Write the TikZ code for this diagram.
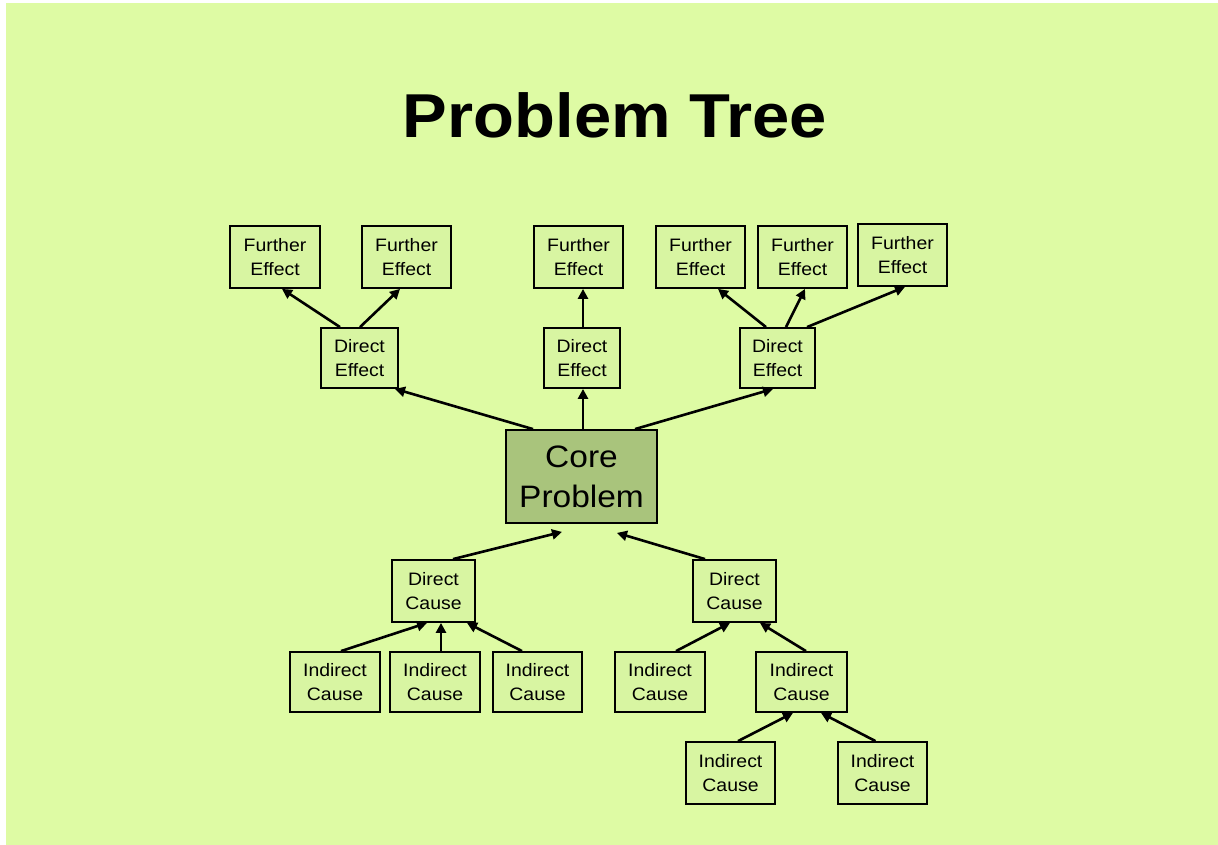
\documentclass[tikz,border=0pt]{standalone}
\usepackage{fontspec}
\setmainfont{Liberation Sans}[FakeStretch=1.08]
\usetikzlibrary{arrows.meta}
\definecolor{bg}{HTML}{DEFBA4}
\definecolor{boxfill}{HTML}{D8F5A2}
\definecolor{corefill}{HTML}{A9C47C}
\tikzset{
  box/.style={draw=black, line width=1.8pt, fill=boxfill, inner sep=0pt, align=center,
    font=\fontsize{18}{24}\selectfont},
  corebox/.style={box, fill=corefill, font=\fontsize{31}{40}\selectfont},
  arr/.style={line width=2.6pt, -{Triangle[length=10pt,width=10pt]}},
}
\begin{document}
\begin{tikzpicture}[x=1pt,y=-1pt]
\useasboundingbox (0,0) rectangle (1218,845);
\fill[white] (0,0) rectangle (1218,845);
\fill[bg] (6,3) rectangle (1218,845);
\node[anchor=base, font=\fontsize{62}{70}\selectfont\bfseries] (title) at (615,138) {Problem Tree};
% effects
\node[box, minimum width=90pt, minimum height=62pt] (fe1) at (275,257) {Further\\Effect};
\node[box, minimum width=89pt, minimum height=62pt] (fe2) at (406.5,257) {Further\\Effect};
\node[box, minimum width=89pt, minimum height=62pt] (fe3) at (578.5,257) {Further\\Effect};
\node[box, minimum width=89pt, minimum height=62pt] (fe4) at (700.5,257) {Further\\Effect};
\node[box, minimum width=89pt, minimum height=62pt] (fe5) at (802.5,257) {Further\\Effect};
\node[box, minimum width=89pt, minimum height=62pt] (fe6) at (902.5,255) {Further\\Effect};
\node[box, minimum width=77pt, minimum height=60pt] (de1) at (359.5,358) {Direct\\Effect};
\node[box, minimum width=76pt, minimum height=60pt] (de2) at (582,358) {Direct\\Effect};
\node[box, minimum width=75pt, minimum height=60pt] (de3) at (777.5,358) {Direct\\Effect};
% core
\node[corebox, minimum width=151pt, minimum height=93pt] (core) at (581.5,476.5) {Core\\Problem};
% causes
\node[box, minimum width=83pt, minimum height=62pt] (dc1) at (433.5,591) {Direct\\Cause};
\node[box, minimum width=83pt, minimum height=62pt] (dc2) at (734.5,591) {Direct\\Cause};
\node[box, minimum width=90pt, minimum height=60pt] (ic1) at (335,682) {Indirect\\Cause};
\node[box, minimum width=90pt, minimum height=60pt] (ic2) at (435,682) {Indirect\\Cause};
\node[box, minimum width=89pt, minimum height=60pt] (ic3) at (537.5,682) {Indirect\\Cause};
\node[box, minimum width=90pt, minimum height=60pt] (ic4) at (660,682) {Indirect\\Cause};
\node[box, minimum width=91pt, minimum height=60pt] (ic5) at (801.5,682) {Indirect\\Cause};
\node[box, minimum width=89pt, minimum height=62pt] (ic6) at (730.5,773) {Indirect\\Cause};
\node[box, minimum width=89pt, minimum height=62pt] (ic7) at (882.5,773) {Indirect\\Cause};
% arrows: effects
\draw[arr] ([xshift=-19.5pt]de1.north) -- ([xshift=7pt]fe1.south);
\draw[arr] ([xshift=0.5pt]de1.north) -- ([xshift=-6.5pt]fe2.south);
\draw[arr] ([xshift=1pt]de2.north) -- ([xshift=4.5pt]fe3.south);
\draw[arr] ([xshift=-48.5pt]core.north) -- ([xshift=35.5pt]de1.south);
\draw[arr] ([xshift=1.5pt]core.north) -- ([xshift=1pt]de2.south);
\draw[arr] ([xshift=53.5pt]core.north) -- ([xshift=-4.5pt]de3.south);
\draw[arr] ([xshift=-11.5pt]de3.north) -- ([xshift=17.5pt]fe4.south);
\draw[arr] ([xshift=8.5pt]de3.north) -- ([xshift=2.5pt]fe5.south);
\draw[arr] ([xshift=29.5pt]de3.north) -- ([xshift=2.5pt]fe6.south);
% arrows: causes
\draw[arr] ([xshift=19.5pt]dc1.north) -- ([xshift=-19.5pt,yshift=-8pt]core.south);
\draw[arr] ([xshift=-29.5pt]dc2.north) -- ([xshift=35.5pt,yshift=-9pt]core.south);
\draw[arr] ([xshift=6pt]ic1.north) -- ([xshift=-6.5pt]dc1.south);
\draw[arr] ([xshift=6pt]ic2.north) -- ([xshift=7.5pt]dc1.south);
\draw[arr] ([xshift=-15.5pt]ic3.north) -- ([xshift=33.5pt]dc1.south);
\draw[arr] ([xshift=16pt]ic4.north) -- ([xshift=-4.5pt]dc2.south);
\draw[arr] ([xshift=4.5pt]ic5.north) -- ([xshift=25.5pt]dc2.south);
\draw[arr] ([xshift=7.5pt]ic6.north) -- ([xshift=-8.5pt]ic5.south);
\draw[arr] ([xshift=-7pt]ic7.north) -- ([xshift=19.5pt]ic5.south);
\end{tikzpicture}
\end{document}
